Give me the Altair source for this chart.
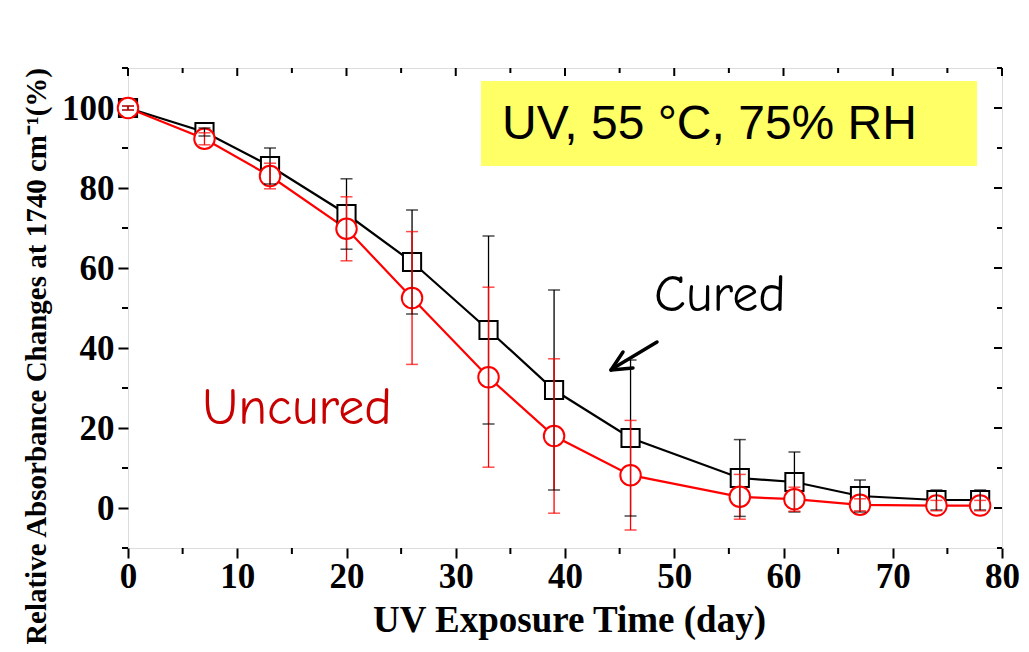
import altair as alt
import pandas as pd

days = [0, 7, 13, 20, 26, 33, 39, 46, 56, 61, 67, 74, 78]
cured = [100, 94, 85.5, 73.5, 61.5, 44.5, 29.5, 17.5, 7.5, 6.5, 3, 2, 2]
cured_err = [0.5, 1, 4.5, 8.8, 13, 23.5, 25, 19.5, 9.6, 7.5, 4, 2.5, 2.5]
uncured = [100, 92.3, 83, 69.8, 52.5, 32.7, 18, 8.2, 2.8, 2.2, 0.8, 0.6, 0.6]
uncured_err = [0.5, 1.5, 3.2, 8, 16.6, 22.5, 19.3, 13.7, 5.6, 3, 1.5, 1.3, 1.3]

x_major = [0, 10, 20, 30, 40, 50, 60, 70, 80]
x_minor = [5, 15, 25, 35, 45, 55, 65, 75]
y_major = [0, 20, 40, 60, 80, 100]
y_minor = [-10, 10, 30, 50, 70, 90, 110]

df = pd.DataFrame({
    "day": days * 2,
    "value": cured + uncured,
    "err": cured_err + uncured_err,
    "series": ["Cured"] * len(days) + ["Uncured"] * len(days),
})
df["lo"] = df["value"] - df["err"]
df["hi"] = df["value"] + df["err"]

W, H = 874, 480
xs = alt.Scale(domain=[0, 80], nice=False, zero=False)
ys = alt.Scale(domain=[-10, 110], nice=False, zero=False)
col = alt.Scale(domain=["Cured", "Uncured"], range=["black", "red"])
shp = alt.Scale(domain=["Cured", "Uncured"], range=["square", "circle"])
szs = alt.Scale(domain=["Cured", "Uncured"], range=[330, 420])

serif = "Liberation Serif"

xaxis = alt.Axis(values=x_major, title="UV Exposure Time (day)", tickSize=10, tickWidth=2,
                 domain=False, labelFont=serif, labelFontWeight="bold", labelFontSize=35,
                 labelColor="black", labelPadding=1, labelFlush=False, labelOverlap=False,
                 titleFont=serif, titleFontWeight="bold",
                 titleFontSize=37, titleColor="black", titleX=441, titleY=83,
                 titleBaseline="alphabetic", grid=False, tickColor="black")
yaxis = alt.Axis(values=y_major, title="Relative Absorbance Changes at 1740 cm\u207b\u00b9(%)",
                 tickSize=10, tickWidth=2, domain=False, labelFont=serif, labelFontWeight="bold",
                 labelFontSize=35, labelColor="black", labelPadding=4, labelFlush=False,
                 labelOverlap=False, titleFont=serif,
                 titleFontWeight="bold", titleFontSize=29, titleColor="black", titleX=-92,
                 titleY=288, titleBaseline="middle", titleAngle=270, grid=False, tickColor="black")

one = pd.DataFrame({"a": [0]})

box = alt.Chart(one).mark_rect(color="#ffff66").encode(
    x=alt.value(353), x2=alt.value(849), y=alt.value(13), y2=alt.value(98))
box_text = alt.Chart(one).mark_text(text="UV, 55 \u00b0C, 75% RH", font="Liberation Sans",
                                     fontSize=48, align="left", baseline="alphabetic",
                                     color="black").encode(x=alt.value(374), y=alt.value(71))

base = alt.Chart(df)
lines = base.mark_line(strokeWidth=2.2).encode(
    x=alt.X("day:Q", scale=xs, axis=xaxis),
    y=alt.Y("value:Q", scale=ys, axis=yaxis),
    color=alt.Color("series:N", scale=col, legend=None),
    detail="series:N",
)
points = base.mark_point(filled=False, fill="white", strokeWidth=2, opacity=1).encode(
    x=alt.X("day:Q", scale=xs),
    y=alt.Y("value:Q", scale=ys),
    stroke=alt.Color("series:N", scale=col, legend=None),
    shape=alt.Shape("series:N", scale=shp, legend=None),
    size=alt.Size("series:N", scale=szs, legend=None),
)
err_rule = base.mark_rule(strokeWidth=1.3).encode(
    x=alt.X("day:Q", scale=xs),
    y=alt.Y("lo:Q", scale=ys),
    y2="hi:Q",
    color=alt.Color("series:N", scale=col, legend=None),
)
cap_lo = base.mark_tick(orient="horizontal", size=12, thickness=1.5).encode(
    x=alt.X("day:Q", scale=xs), y=alt.Y("lo:Q", scale=ys),
    color=alt.Color("series:N", scale=col, legend=None))
cap_hi = base.mark_tick(orient="horizontal", size=12, thickness=1.5).encode(
    x=alt.X("day:Q", scale=xs), y=alt.Y("hi:Q", scale=ys),
    color=alt.Color("series:N", scale=col, legend=None))

# frame ticks
xmin_df = pd.DataFrame({"t": x_minor})
xmaj_df = pd.DataFrame({"t": x_major})
ymin_df = pd.DataFrame({"t": y_minor})
ymaj_df = pd.DataFrame({"t": y_major})
bx_minor = alt.Chart(xmin_df).mark_rule(color="black", strokeWidth=2).encode(
    x=alt.X("t:Q", scale=xs), y=alt.value(H), y2=alt.value(H + 6))
top_major = alt.Chart(xmaj_df).mark_rule(color="black", strokeWidth=2).encode(
    x=alt.X("t:Q", scale=xs), y=alt.value(0), y2=alt.value(8))
top_minor = alt.Chart(xmin_df).mark_rule(color="black", strokeWidth=2).encode(
    x=alt.X("t:Q", scale=xs), y=alt.value(0), y2=alt.value(5))
ly_minor = alt.Chart(ymin_df).mark_rule(color="black", strokeWidth=2).encode(
    y=alt.Y("t:Q", scale=ys), x=alt.value(-6), x2=alt.value(0))
ry_major = alt.Chart(ymaj_df).mark_rule(color="black", strokeWidth=2).encode(
    y=alt.Y("t:Q", scale=ys), x=alt.value(W - 8), x2=alt.value(W))
ry_minor = alt.Chart(ymin_df).mark_rule(color="black", strokeWidth=2).encode(
    y=alt.Y("t:Q", scale=ys), x=alt.value(W - 5), x2=alt.value(W))

hand = "Comic Sans MS, Comic Neue, DejaVu Sans"
uncured_txt = alt.Chart(one).mark_text(text="Uncured", font=hand, fontSize=52, color="#c80000",
                                        align="center", baseline="alphabetic").encode(
    x=alt.value(169), y=alt.value(356))
cured_txt = alt.Chart(one).mark_text(text="Cured", font=hand, fontSize=52, color="black",
                                      align="center", baseline="alphabetic").encode(
    x=alt.value(592), y=alt.value(243))
arrow = alt.Chart(one).mark_rule(color="black", strokeWidth=3.5, strokeCap="round").encode(
    x=alt.value(529), y=alt.value(274), x2=alt.value(484), y2=alt.value(301))
wing1 = alt.Chart(one).mark_rule(color="black", strokeWidth=3.5, strokeCap="round").encode(
    x=alt.value(483), y=alt.value(302), x2=alt.value(505), y2=alt.value(300))
wing2 = alt.Chart(one).mark_rule(color="black", strokeWidth=3.5, strokeCap="round").encode(
    x=alt.value(483), y=alt.value(302), x2=alt.value(495), y2=alt.value(284))

chart = alt.layer(
    box, box_text, lines, points, err_rule, cap_lo, cap_hi,
    bx_minor, top_major, top_minor, ly_minor, ry_major, ry_minor,
    uncured_txt, cured_txt, arrow, wing1, wing2,
).properties(
    width=W, height=H,
    autosize=alt.AutoSizeParams(type="none"),
    padding={"left": 120, "top": 60, "right": 19, "bottom": 96},
).configure_view(stroke="black", strokeWidth=2).configure(background="white")

chart.save("out.html", embed_options={"renderer": "svg", "actions": False})
